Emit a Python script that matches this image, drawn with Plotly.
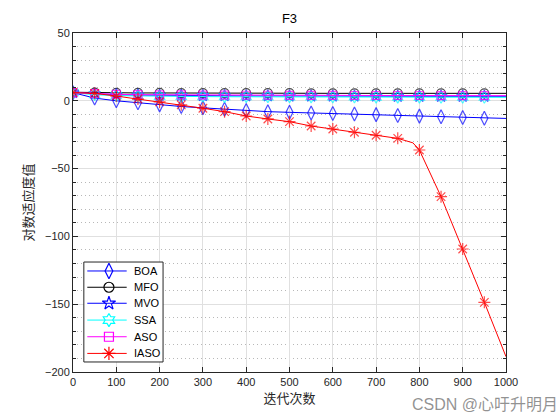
import plotly.graph_objects as go

iters = [0, 50, 100, 150, 200, 250, 300, 350, 400, 450, 500, 550, 600, 650, 700, 750, 800, 850, 900, 950, 1000]
iaso_iters = [0, 50, 100, 150, 200, 250, 300, 350, 400, 450, 500, 550, 600, 650, 700, 750, 785, 800, 850, 900, 950, 1000]

boa = [6.0, 2.0, 0.0, -1.5, -3.0, -4.2, -5.2, -6.3, -7.2, -8.0, -8.5, -9.0, -9.3, -9.7, -10.2, -10.8, -11.3, -11.8, -12.3, -12.8, -13.0]
mfo = [6.3, 6.0, 5.9, 5.8, 5.8, 5.7, 5.7, 5.6, 5.6, 5.6, 5.6, 5.5, 5.5, 5.5, 5.5, 5.5, 5.5, 5.5, 5.5, 5.5, 5.5]
mvo = [6.0, 5.0, 4.5, 4.2, 4.0, 3.9, 3.8, 3.7, 3.6, 3.6, 3.5, 3.5, 3.4, 3.4, 3.4, 3.3, 3.3, 3.3, 3.3, 3.3, 3.3]
ssa = [6.0, 4.5, 3.8, 3.5, 3.3, 3.2, 3.1, 3.0, 3.0, 2.9, 2.9, 2.8, 2.8, 2.8, 2.7, 2.7, 2.7, 2.6, 2.6, 2.6, 2.6]
aso = [6.0, 5.3, 4.8, 4.5, 4.4, 4.3, 4.2, 4.2, 4.1, 4.1, 4.0, 4.0, 4.0, 3.9, 3.9, 3.9, 3.9, 3.8, 3.8, 3.8, 3.8]
iaso = [6.0, 5.5, 3.5, 1.3, -0.8, -3.0, -5.5, -8.0, -11.2, -13.4, -15.4, -18.6, -20.8, -23.2, -25.4, -27.7, -31.0, -36.3, -70.7, -109.3, -148.6, -188.7]

x_ticks = [0, 100, 200, 300, 400, 500, 600, 700, 800, 900, 1000]
y_ticks = [-200, -150, -100, -50, 0, 50]

series = [
    ("BOA", iters, boa, "#0000ff", "diamond-tall-open", 10),
    ("MFO", iters, mfo, "#000000", "circle-open", 9),
    ("MVO", iters, mvo, "#0000ff", "star-open", 9),
    ("SSA", iters, ssa, "#00ffff", "hexagram-open", 9),
    ("ASO", iters, aso, "#ff00ff", "square-open", 8),
    ("IASO", iaso_iters, iaso, "#ff0000", "asterisk-open", 10),
]

# legend placement (in data units of the main axes)
leg_box_x = [25, 208]
leg_box_y = [-192.6, -118.9]
leg_line_x = [33, 124]
leg_mark_x = 83
leg_text_x = 136
leg_rows_y = [-125.5, -137.5, -149.3, -161.7, -174.0, -186.3]

fig = go.Figure()
for name, xs, ys, color, symbol, size in series:
    sizes = [size if (x % 50 == 0 and x < 1000) else 0 for x in xs]
    fig.add_trace(go.Scatter(
        x=xs, y=ys, name=name, mode="lines+markers", showlegend=False,
        line=dict(color=color, width=1),
        marker=dict(symbol=symbol, size=sizes, color=color, line=dict(color=color, width=1.2)),
    ))

fig.add_shape(type="rect", xref="x", yref="y",
              x0=leg_box_x[0], x1=leg_box_x[1], y0=leg_box_y[0], y1=leg_box_y[1],
              fillcolor="white", line=dict(color="#262626", width=1), layer="between")

annotations = []
for (name, xs, ys, color, symbol, size), ly in zip(series, leg_rows_y):
    fig.add_trace(go.Scatter(x=leg_line_x, y=[ly, ly], mode="lines", showlegend=False,
                             hoverinfo="skip", line=dict(color=color, width=1)))
    fig.add_trace(go.Scatter(x=[leg_mark_x], y=[ly], mode="markers", showlegend=False,
                             hoverinfo="skip",
                             marker=dict(symbol=symbol, size=size + 1, color=color,
                                         line=dict(color=color, width=1.2))))
    annotations.append(dict(text=name, x=leg_text_x, y=ly, xref="x", yref="y",
                            xanchor="left", yanchor="middle", showarrow=False,
                            font=dict(size=11, color="black")))

annotations.append(dict(text="CSDN @心吁升明月", xref="paper", yref="paper",
                        x=1.125, y=-0.095, xanchor="right", yanchor="middle", showarrow=False,
                        font=dict(size=16, color="rgba(110,110,110,0.75)",
                                  family="Liberation Sans, Noto Sans CJK SC, sans-serif")))

fig.update_layout(
    width=560, height=420,
    margin=dict(l=73, r=54, t=33, b=48),
    paper_bgcolor="white", plot_bgcolor="white",
    font=dict(family="Liberation Sans, Arial, sans-serif", size=11, color="#262626"),
    title=dict(text="F3", x=0.5, xanchor="center", y=0.955, yanchor="middle",
               xref="paper", font=dict(size=13, color="black")),
    showlegend=False,
    annotations=annotations,
)

fig.update_xaxes(
    range=[0, 1000], tickvals=x_ticks, ticks="inside", ticklen=5, tickcolor="#262626",
    showline=True, linecolor="#262626", linewidth=1, mirror="ticks",
    showgrid=True, gridcolor="#e0e0e0", gridwidth=1, zeroline=False,
    title=dict(text="迭代次数", font=dict(family="Noto Sans CJK SC", size=13, color="#262626"), standoff=6),
)
fig.update_yaxes(
    range=[-200, 50], tickvals=y_ticks, ticks="inside", ticklen=5, tickcolor="#262626",
    showline=True, linecolor="#262626", linewidth=1, mirror="ticks",
    showgrid=True, gridcolor="#e0e0e0", gridwidth=1, zeroline=False,
    minor=dict(dtick=10, ticks="inside", ticklen=3, tickcolor="#262626",
               showgrid=True, gridcolor="#b8b8b8", griddash="1px,3px", gridwidth=1),
    title=dict(text="对数适应度值", font=dict(family="Noto Sans CJK SC", size=13, color="#262626"), standoff=8),
)

fig.write_html("out.html", config={"displayModeBar": False},
               post_script="document.body.style.margin='0';")
